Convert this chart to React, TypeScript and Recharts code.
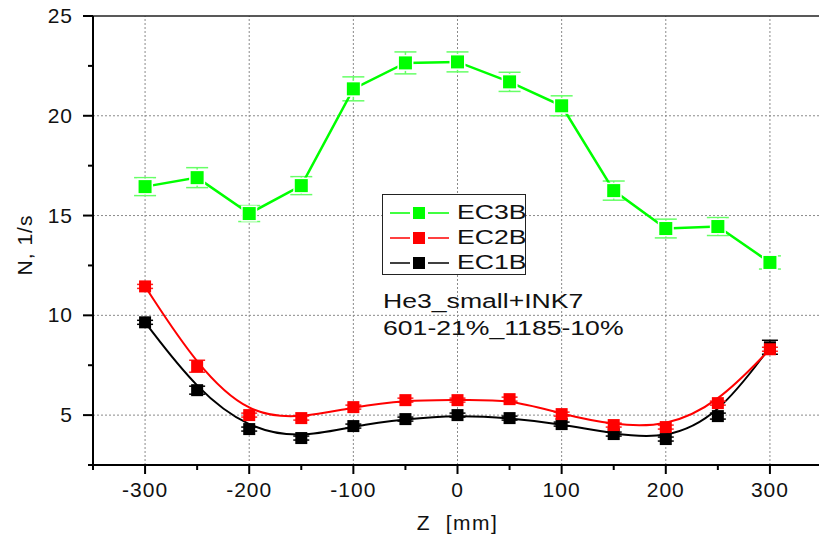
import React from "react";
import {
	LineChart,
	Line,
	XAxis,
	YAxis,
	ReferenceLine,
	ErrorBar,
	Legend,
	Label,
} from "recharts";

const zValues = [-300, -250, -200, -150, -100, -50, 0, 50, 100, 150, 200, 250, 300];
const ec3b = [16.45, 16.9, 15.1, 16.5, 21.35, 22.65, 22.7, 21.7, 20.5, 16.25, 14.35, 14.45, 12.65];
const ec3bErr = [0.45, 0.5, 0.4, 0.45, 0.6, 0.55, 0.5, 0.48, 0.5, 0.48, 0.47, 0.45, 0.33];
const ec2b = [11.45, 7.45, 5.0, 4.85, 5.4, 5.75, 5.75, 5.8, 5.05, 4.5, 4.4, 5.6, 8.3];
const ec2bErr = [0.1, 0.3, 0.1, 0.1, 0.1, 0.1, 0.1, 0.1, 0.1, 0.1, 0.1, 0.1, 0.1];
const ec1b = [9.65, 6.25, 4.3, 3.85, 4.45, 4.8, 5.0, 4.85, 4.55, 4.05, 3.8, 4.95, 8.4];
const ec1bErr = [0.1, 0.2, 0.1, 0.1, 0.1, 0.1, 0.1, 0.1, 0.1, 0.1, 0.1, 0.15, 0.35];

const xTicks = [-350, -300, -250, -200, -150, -100, -50, 0, 50, 100, 150, 200, 250, 300, 350];
const xLabels = [-300, -200, -100, 0, 100, 200, 300];
const yTicks = [2.5, 5, 7.5, 10, 12.5, 15, 17.5, 20, 22.5, 25];
const yLabels = [5, 10, 15, 20, 25];

const data = zValues.map((z, i) => ({
	z,
	ec3b: ec3b[i],
	ec3bErr: ec3bErr[i],
	ec2b: ec2b[i],
	ec2bErr: ec2bErr[i],
	ec1b: ec1b[i],
	ec1bErr: ec1bErr[i],
}));

const series = [
	{ key: "ec3b", name: "EC3B", color: "#00ff00" },
	{ key: "ec2b", name: "EC2B", color: "#ff0000" },
	{ key: "ec1b", name: "EC1B", color: "#000000" },
];

const font = "'Liberation Sans', Arial, sans-serif";

function XTick({ x, y, payload }: any) {
	const major = xLabels.includes(payload.value);
	return (
		<g>
			<line x1={x} x2={x} y1={y} y2={y + (major ? 9 : 5)} stroke="#000" strokeWidth={2} />
			{major && (
				<text
					x={x}
					y={y + 32}
					textAnchor="middle"
					fontSize={21}
					letterSpacing={1}
					fill="#111"
					fontFamily={font}
				>
					{payload.value}
				</text>
			)}
		</g>
	);
}

function YTick({ x, y, payload }: any) {
	const major = yLabels.includes(payload.value);
	return (
		<g>
			<line x1={x - (major ? 10 : 5)} x2={x} y1={y} y2={y} stroke="#000" strokeWidth={2} />
			{major && (
				<text
					x={x - 20}
					y={y + 7}
					textAnchor="end"
					fontSize={21}
					letterSpacing={1}
					fill="#111"
					fontFamily={font}
				>
					{payload.value}
				</text>
			)}
		</g>
	);
}

function squareDot(color: string, halo: boolean, size: number) {
	return (props: any) => {
		const { cx, cy, index } = props;
		if (cx == null || cy == null) return <g key={index} />;
		return (
			<rect
				key={index}
				x={cx - size / 2}
				y={cy - size / 2}
				width={size}
				height={size}
				fill={color}
				stroke={halo ? "#fff" : "none"}
				strokeWidth={halo ? 3 : 0}
				paintOrder="stroke"
			/>
		);
	};
}

// text in the original is drawn wide, so it gets stretched horizontally
const wide = { display: "inline-block", transform: "scaleX(1.33)", transformOrigin: "0 50%" };

function LegendBox() {
	return (
		<div
			style={{
				border: "1.5px solid #222",
				background: "#fff",
				width: 144,
				height: 81,
				paddingTop: 5,
				boxSizing: "border-box",
				fontFamily: font,
			}}
		>
			{series.map((s) => (
				<div key={s.key} style={{ display: "flex", alignItems: "center", height: 25 }}>
					<svg width={74} height={16} style={{ flex: "none" }}>
						<line x1={7} x2={27} y1={8} y2={8} stroke={s.color} strokeWidth={1.5} />
						<rect x={30} y={2} width={12} height={12} fill={s.color} />
						<line x1={45} x2={66} y1={8} y2={8} stroke={s.color} strokeWidth={1.5} />
					</svg>
					<span style={{ ...wide, fontSize: 20, color: "#111", lineHeight: "25px" }}>{s.name}</span>
				</div>
			))}
		</div>
	);
}

export default function App() {
	return (
		<div style={{ position: "fixed", left: 0, top: 0, width: 819, height: 539, background: "#fff" }}>
			<LineChart
				width={819}
				height={539}
				data={data}
				margin={{ top: 16, right: -3, bottom: 0, left: 0 }}
				style={{ fontFamily: font }}
			>
				<XAxis
					dataKey="z"
					type="number"
					domain={[-350, 350]}
					ticks={xTicks}
					interval={0}
					allowDataOverflow
					height={74}
					tickSize={0}
					tickMargin={0}
					tickLine={false}
					tick={<XTick />}
					axisLine={{ stroke: "#000", strokeWidth: 2 }}
				>
					<Label
						value={"Z \u00a0[mm]"}
						position="insideBottom"
						offset={9}
						fontSize={21}
						letterSpacing={1.5}
						fill="#111"
						fontFamily={font}
					/>
				</XAxis>
				<YAxis
					type="number"
					domain={[2.5, 25]}
					ticks={yTicks}
					interval={0}
					allowDataOverflow
					width={93}
					tickSize={0}
					tickMargin={0}
					tickLine={false}
					tick={<YTick />}
					axisLine={{ stroke: "#000", strokeWidth: 2 }}
				>
					<Label
						content={() => (
							<text
								x={32}
								y={245}
								transform="rotate(-90 32 245)"
								textAnchor="middle"
								fontSize={21}
								letterSpacing={1}
								fill="#111"
								fontFamily={font}
							>
								N, 1/s
							</text>
						)}
					/>
				</YAxis>
				{xLabels.map((v) => (
					<ReferenceLine key={`gx${v}`} x={v} stroke="#8a8a8a" strokeDasharray="2 2" strokeWidth={1} />
				))}
				{yLabels.slice(0, 4).map((v) => (
					<ReferenceLine key={`gy${v}`} y={v} stroke="#8a8a8a" strokeDasharray="2 2" strokeWidth={1} />
				))}
				<ReferenceLine y={25} stroke="#222" strokeWidth={1.5} />
				<Legend
					layout="vertical"
					align="center"
					verticalAlign="middle"
					content={() => <LegendBox />}
					wrapperStyle={{ left: 382, top: 194, width: 146, height: 83 }}
				/>
				<Line
					dataKey="ec1b"
					name="EC1B"
					type="basis"
					stroke="#000"
					strokeWidth={2}
					dot={squareDot("#000", false, 12)}
					activeDot={false}
					isAnimationActive={false}
				>
					<ErrorBar dataKey="ec1bErr" direction="y" width={8} stroke="#000" strokeWidth={1.5} />
				</Line>
				<Line
					dataKey="ec2b"
					name="EC2B"
					type="basis"
					stroke="#ff0000"
					strokeWidth={2}
					dot={squareDot("#ff0000", false, 12)}
					activeDot={false}
					isAnimationActive={false}
				>
					<ErrorBar dataKey="ec2bErr" direction="y" width={8} stroke="#ff2020" strokeWidth={1.5} />
				</Line>
				<Line
					dataKey="ec3b"
					name="EC3B"
					type="linear"
					stroke="#00ff00"
					strokeWidth={2.5}
					dot={squareDot("#00ff00", true, 13)}
					activeDot={false}
					isAnimationActive={false}
				>
					<ErrorBar dataKey="ec3bErr" direction="y" width={11} stroke="#66ff66" strokeWidth={1.5} />
				</Line>
			</LineChart>
			<div
				style={{
					position: "absolute",
					left: 383,
					top: 288,
					fontFamily: font,
					fontSize: 20,
					lineHeight: "27px",
					color: "#111",
					whiteSpace: "nowrap",
				}}
			>
				<div style={wide}>He3_small+INK7</div>
				<div style={{ ...wide, display: "block" }}>601-21%_1185-10%</div>
			</div>
		</div>
	);
}
